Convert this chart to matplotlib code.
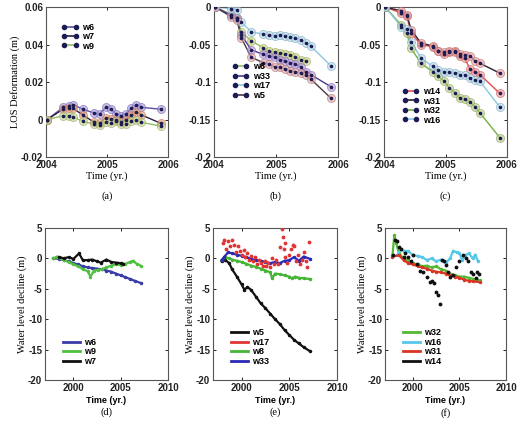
import matplotlib
matplotlib.use('Agg')
import matplotlib.pyplot as plt
from matplotlib.lines import Line2D

plt.rcParams['axes.unicode_minus'] = False

# InSAR acquisition dates (decimal year)
sar_t = [2004.02, 2004.28, 2004.37, 2004.44, 2004.60, 2004.79, 2004.88, 2004.98,
         2005.06, 2005.15, 2005.23, 2005.31, 2005.40, 2005.48, 2005.56, 2005.88]

# (a) LOS deformation (m)
a_w6 = [0, 0.0065, 0.007, 0.008, 0.0055, 0.0035, 0.003, 0.0065,
        0.0055, 0.003, 0.002, 0.003, 0.006, 0.008, 0.0065, 0.0055]
a_w7 = [0, 0.0055, 0.006, 0.006, 0.0025, -0.0015, -0.002, 0.001,
        0.0005, 0.0, -0.0015, 0.0, 0.0025, 0.004, 0.0025, -0.002]
a_w9 = [0, 0.002, 0.002, 0.0015, -0.001, -0.0025, -0.003, -0.0015,
        -0.002, -0.001, -0.0025, -0.0025, -0.001, -0.0005, -0.0015, -0.0035]

# (b)
b_w8 = [0, -0.010, -0.014, -0.033, -0.045, -0.054, -0.059, -0.060,
        -0.061, -0.063, -0.064, -0.067, -0.070, -0.072]
b_w33 = [0, -0.011, -0.015, -0.037, -0.057, -0.063, -0.065, -0.067,
         -0.070, -0.072, -0.074, -0.076, -0.080, -0.087, -0.090, -0.106]
b_w17 = [0, -0.002, -0.004, -0.020, -0.033, -0.036, -0.037, -0.038,
         -0.037, -0.039, -0.040, -0.041, -0.044, -0.048, -0.052, -0.078]
b_w5 = [0, -0.013, -0.017, -0.041, -0.067, -0.074, -0.076, -0.080,
        -0.080, -0.083, -0.085, -0.086, -0.088, -0.091, -0.096, -0.121]

# (c)
c_w14 = [0, -0.008, -0.012, -0.035, -0.050, -0.053, -0.058, -0.062,
         -0.060, -0.058, -0.065, -0.068, -0.083, -0.086, -0.090, -0.115]
c_w31 = [0, -0.005, -0.010, -0.030, -0.048, -0.052, -0.058, -0.060,
         -0.058, -0.060, -0.063, -0.064, -0.065, -0.072, -0.075, -0.088]
c_w32 = [0, -0.024, -0.035, -0.055, -0.075, -0.086, -0.092, -0.099,
         -0.108, -0.114, -0.121, -0.123, -0.127, -0.133, -0.141, -0.174]
c_w16 = [0, -0.026, -0.029, -0.046, -0.068, -0.079, -0.084, -0.086,
         -0.087, -0.088, -0.090, -0.091, -0.095, -0.097, -0.099, -0.133]

# (d) water level decline (m)
d_w6_t = [1997.9, 1998.5, 1999.0, 1999.5, 2000.0, 2000.5, 2001.0, 2001.5, 2002.0, 2002.5,
          2003.0, 2003.5, 2004.0, 2004.5, 2005.0, 2005.5, 2006.0, 2006.5, 2007.2]
d_w6 = [0.0, -0.1, -0.3, -0.5, -0.8, -1.0, -1.3, -1.5, -1.6, -1.7,
        -1.8, -2.0, -2.2, -2.5, -2.8, -3.1, -3.4, -3.7, -4.1]
d_w9_t = [1997.9, 1998.3, 1998.6, 1999.0, 1999.5, 2000.0, 2000.5, 2001.0, 2001.5, 2001.8,
          2002.2, 2002.6, 2003.0, 2003.5, 2004.0, 2004.5, 2005.0, 2005.5, 2006.0, 2006.3, 2006.7, 2007.1]
d_w9 = [0.0, 0.3, 0.1, -0.3, -0.6, -1.0, -1.3, -1.8, -2.1, -3.0,
        -2.0, -1.9, -1.8, -1.5, -1.2, -1.0, -1.1, -0.9, -0.6, -0.4, -0.9, -1.2]
d_w7_t = [1998.5, 1999.0, 1999.5, 2000.0, 2000.6, 2001.0, 2001.5, 2002.0, 2002.5,
          2002.9, 2003.5, 2004.0, 2004.5, 2005.0, 2005.3]
d_w7 = [0.2, 0.0, 0.2, -0.1, 0.8, -0.3, -0.3, -0.2, -0.5,
        -0.7, -0.2, -0.6, -0.7, -0.8, -0.9]

# (e)
e_w5_t = [1997.9, 1998.3, 1998.7, 1999.0, 1999.5, 2000.0, 2000.3, 2000.6, 2001.0, 2001.5,
          2002.0, 2002.5, 2003.0, 2003.5, 2004.0, 2004.5, 2005.0, 2005.5, 2006.0, 2006.5, 2007.2]
e_w5 = [-0.5, -0.3, -0.8, -1.8, -3.0, -4.3, -5.2, -4.7, -5.2, -6.3,
        -7.4, -8.2, -9.1, -10.0, -10.8, -11.8, -12.6, -13.4, -14.0, -14.6, -15.3]
e_w17_t = [1998.0, 1998.2, 1998.4, 1998.6, 1998.8, 1999.0, 1999.2, 1999.4, 1999.6, 1999.8,
           2000.0, 2000.2, 2000.4, 2000.6, 2000.8, 2001.0, 2001.2, 2001.4, 2001.6, 2001.8,
           2002.0, 2002.2, 2002.4, 2002.6, 2002.8, 2003.0, 2003.2, 2003.4, 2003.6, 2003.8,
           2004.0, 2004.2, 2004.3, 2004.4, 2004.5, 2004.6, 2004.8, 2005.0, 2005.2, 2005.4,
           2005.5, 2005.7, 2005.9, 2006.1, 2006.3, 2006.5, 2006.7, 2006.9, 2007.1]
e_w17 = [2.5, 3.0, 1.5, 2.8, 2.0, 3.0, 2.2, 1.0, 2.0, 1.2,
         0.5, 1.3, 0.2, 0.8, -0.3, 0.4, -0.5, 0.2, -1.0, -0.2,
         -0.8, -1.2, -0.5, -1.3, -0.7, -1.5, 0.0, -1.0, -0.3, -1.0,
         1.8, 4.8, 3.5, 1.5, 2.5, 0.2, -0.8, 0.5, 1.5, 2.2,
         2.0, -0.5, 0.5, -1.0, -0.2, 1.0, -0.5, -1.5, 2.7]
e_w8_t = [1997.9, 1998.3, 1998.7, 1999.0, 1999.5, 2000.0, 2000.5, 2001.0, 2001.5, 2002.0,
          2002.5, 2003.0, 2003.2, 2003.5, 2004.0, 2004.5, 2005.0, 2005.3, 2005.6, 2006.0, 2006.5, 2007.2]
e_w8 = [-0.3, 0.2, 0.0, -0.2, -0.4, -0.6, -0.9, -1.2, -1.4, -1.7,
        -2.0, -2.3, -3.3, -2.5, -2.6, -2.8, -3.0, -3.3, -3.0, -3.2, -3.3, -3.4]
e_w33_t = [1997.9, 1998.2, 1998.6, 1999.0, 1999.5, 2000.0, 2000.5, 2001.0, 2001.5, 2002.0,
           2002.5, 2003.0, 2003.5, 2004.0, 2004.5, 2005.0, 2005.5, 2006.0, 2006.5, 2007.2]
e_w33 = [-0.3, 0.3, 1.0, 0.8, 0.6, 0.4, 0.2, -0.1, -0.3, -0.4,
         -0.6, -0.8, -0.6, -0.8, -0.4, -0.3, 0.2, -0.4, 0.3, -0.1]

# (f)
f_w32_t = [1997.8, 1998.0, 1998.2, 1998.5, 1999.0, 1999.5, 2000.0, 2000.5, 2001.0, 2001.5,
           2002.0, 2002.5, 2003.0, 2003.5, 2004.0, 2004.5, 2005.0, 2005.5, 2006.0, 2006.5, 2007.2]
f_w32 = [0.5, 3.8, 2.5, 0.8, 0.0, -0.3, -0.8, -1.0, -1.3, -1.2,
         -1.5, -1.3, -1.8, -2.0, -2.5, -2.8, -3.0, -3.0, -3.2, -3.4, -3.6]
f_w16_t = [1998.3, 1998.7, 1999.0, 1999.5, 2000.0, 2000.5, 2001.0, 2001.5, 2002.0, 2002.5,
           2003.0, 2003.5, 2004.0, 2004.3, 2004.7, 2005.0, 2005.3, 2005.6, 2006.0, 2006.4, 2006.7, 2007.0]
f_w16 = [0.5, 1.5, 1.2, 1.2, 0.5, 0.4, 0.2, -0.3, 0.0, -0.5,
         -0.2, -0.8, 0.0, 1.2, 1.0, 0.8, -0.3, 0.5, 0.8, 0.0, 0.6, -0.5]
f_w31_t = [1997.8, 1998.5, 1999.0, 1999.5, 2000.0, 2000.5, 2001.0, 2001.5, 2002.0, 2002.5,
           2003.0, 2003.5, 2004.0, 2004.5, 2005.0, 2005.5, 2006.0, 2006.5, 2007.2]
f_w31 = [0.3, 0.5, -0.3, -0.8, -1.0, -1.3, -1.5, -1.7, -2.0, -2.2,
         -2.3, -2.5, -2.8, -3.0, -3.2, -3.5, -3.7, -3.8, -3.9]
f_w14_t = [1997.9, 1998.1, 1998.3, 1998.5, 1998.7, 1999.0, 1999.2, 1999.5, 1999.8, 2000.0,
           2000.4, 2000.8, 2001.1, 2001.5, 2001.8, 2002.1, 2002.3, 2002.5, 2002.7, 2002.9,
           2003.1, 2003.3, 2003.5, 2003.8, 2004.0, 2004.3, 2004.6, 2005.0, 2005.4, 2005.7,
           2005.9, 2006.2, 2006.5, 2006.8, 2006.9, 2007.1]
f_w14 = [0.5, 3.0, 2.8, 1.8, 1.6, 0.3, 0.8, 0.3, -0.5, 0.5,
         -1.0, -2.0, -2.2, -3.0, -3.9, -3.8, -4.0, -5.5, -6.0, -7.5,
         -0.3, -0.5, -1.1, -2.2, -3.0, -2.7, -1.5, -0.5, 0.5, 0.0,
         -0.5, -2.2, -2.5, -3.3, -2.2, -2.5]

serif = 'Liberation Serif'
sans = 'Liberation Sans'
navy = '#1c1c55'

fig = plt.figure(figsize=(5.2, 4.32), dpi=100)

top_pos = [[0.0885, 0.6366, 0.2346, 0.347],
           [0.4115, 0.6366, 0.2385, 0.347],
           [0.7385, 0.6366, 0.2365, 0.347]]
bot_pos = [[0.0865, 0.1204, 0.2365, 0.352],
           [0.4096, 0.1204, 0.2385, 0.352],
           [0.7404, 0.1204, 0.2327, 0.352]]


def style(ax):
    ax.tick_params(direction='in', top=True, right=True, length=2, width=0.6,
                   labelsize=7, pad=2)
    for s in ax.spines.values():
        s.set_color('#555555')
        s.set_linewidth(0.8)
    for lab in ax.get_xticklabels() + ax.get_yticklabels():
        lab.set_family(sans)
        lab.set_fontweight('bold')
        lab.set_color('#222222')


def sar_panel(ax, series, anchor):
    handles = []
    for vals, name, lc, fc, ec in series:
        t = sar_t[:len(vals)]
        ax.plot(t, vals, '-', color=lc, lw=1.0, zorder=2)
        ax.plot(t, vals, 'o', ms=5.8, mfc=fc, mec=ec, mew=0.7, alpha=0.6, zorder=3)
        ax.plot(t, vals, '.', color=navy, ms=3.2, zorder=4)
        handles.append(Line2D([], [], color=lc, lw=1.2, marker='o', ms=3,
                              mfc=navy, mec=navy, label=name))
    ax.set_xlim(2004, 2006)
    ax.set_xticks([2004, 2005, 2006])
    ax.set_xticklabels(['2004', '2005', '2006'])
    ax.set_xlabel('Time (yr.)', family=serif, fontsize=7.5, labelpad=1)
    ax.legend(handles=handles, loc='upper left', bbox_to_anchor=anchor,
              frameon=False, numpoints=2,
              handlelength=1.9, handletextpad=0.4, labelspacing=0.05,
              prop={'family': sans, 'weight': 'bold', 'size': 6.5})
    style(ax)


axa = fig.add_axes(top_pos[0])
sar_panel(axa, [(a_w6, 'w6', '#5a50a8', '#a898d8', '#7a68b8'),
                (a_w7, 'w7', '#2a2040', '#e8a070', '#c87860'),
                (a_w9, 'w9', '#90c060', '#c8d890', '#9aa868')],
          (0.06, 0.95))
axa.set_ylim(-0.02, 0.06)
axa.set_yticks([-0.02, 0, 0.02, 0.04, 0.06])
axa.set_yticklabels(['-0.02', '0', '0.02', '0.04', '0.06'])
axa.set_ylabel('LOS Deformation (m)', family=serif, fontsize=7.5, labelpad=1)
style(axa)

axb = fig.add_axes(top_pos[1])
sar_panel(axb, [(b_w8, 'w8', '#90c060', '#c8d880', '#a0a860'),
                (b_w33, 'w33', '#4a3a90', '#b898d8', '#8a70b8'),
                (b_w17, 'w17', '#8cc8e0', '#b8dcec', '#80a8c0'),
                (b_w5, 'w5', '#4a3848', '#e0a8a8', '#b07878')],
          (0.08, 0.685))
axb.set_ylim(-0.2, 0)
axb.set_yticks([-0.2, -0.15, -0.1, -0.05, 0])
axb.set_yticklabels(['-0.2', '-0.15', '-0.1', '-0.05', '0'])
style(axb)

axc = fig.add_axes(top_pos[2])
sar_panel(axc, [(c_w14, 'w14', '#e05050', '#f09090', '#c86060'),
                (c_w31, 'w31', '#2a2030', '#f0a0a0', '#b87070'),
                (c_w32, 'w32', '#70b040', '#b8d088', '#90a060'),
                (c_w16, 'w16', '#88c8e0', '#b8dcec', '#80a8c0')],
          (0.08, 0.52))
axc.set_ylim(-0.2, 0)
axc.set_yticks([-0.2, -0.15, -0.1, -0.05, 0])
axc.set_yticklabels(['-0.2', '-0.15', '-0.1', '-0.05', '0'])
style(axc)


def well_panel(ax, series):
    handles = []
    for t, vals, name, col, dots in series:
        if dots:
            ax.plot(t, vals, '.', color=col, ms=3.5, zorder=3)
        else:
            ax.plot(t, vals, '.-', color=col, lw=1.6, ms=3, zorder=2)
        handles.append(Line2D([], [], color=col, lw=2.0, label=name))
    ax.set_xlim(1997, 2010)
    ax.set_xticks([2000, 2005, 2010])
    ax.set_xticklabels(['2000', '2005', '2010'])
    ax.set_ylim(-20, 5)
    ax.set_yticks([-20, -15, -10, -5, 0, 5])
    ax.set_yticklabels(['-20', '-15', '-10', '-5', '0', '5'])
    ax.set_xlabel('Time (yr.)', family=sans, fontweight='bold', fontsize=6.5, labelpad=2)
    ax.set_ylabel('Water level decline (m)', family=serif, fontsize=7.5, labelpad=1)
    ax.legend(handles=handles, loc='lower left', frameon=False,
              handlelength=1.9, handletextpad=0.4, labelspacing=0.05,
              bbox_to_anchor=(0.08, 0.04),
              prop={'family': sans, 'weight': 'bold', 'size': 6.5})
    style(ax)


axd = fig.add_axes(bot_pos[0])
well_panel(axd, [(d_w6_t, d_w6, 'w6', '#3a3aa8', False),
                 (d_w9_t, d_w9, 'w9', '#50c040', False),
                 (d_w7_t, d_w7, 'w7', '#111111', False)])

axe = fig.add_axes(bot_pos[1])
well_panel(axe, [(e_w5_t, e_w5, 'w5', '#111111', False),
                 (e_w17_t, e_w17, 'w17', '#e03535', True),
                 (e_w8_t, e_w8, 'w8', '#45b535', False),
                 (e_w33_t, e_w33, 'w33', '#2a2ab8', False)])

axf = fig.add_axes(bot_pos[2])
well_panel(axf, [(f_w32_t, f_w32, 'w32', '#55b835', False),
                 (f_w16_t, f_w16, 'w16', '#55c8e8', False),
                 (f_w31_t, f_w31, 'w31', '#d83525', False),
                 (f_w14_t, f_w14, 'w14', '#111111', True)])

# panel captions
for x, y, s in [(0.2058, 0.545, '(a)'), (0.530, 0.545, '(b)'), (0.857, 0.545, '(c)'),
                (0.2048, 0.045, '(d)'), (0.529, 0.045, '(e)'), (0.857, 0.045, '(f)')]:
    fig.text(x, y, s, ha='center', va='center', family=serif, fontsize=7.5)

fig.savefig('out.png', dpi=100)
